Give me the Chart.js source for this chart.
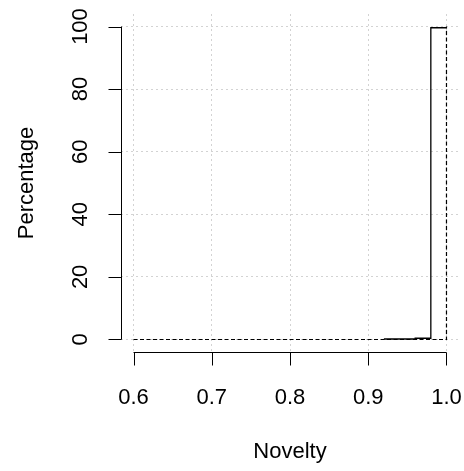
<!DOCTYPE html>
<html><head><meta charset="utf-8">
<script src="https://cdn.jsdelivr.net/npm/chart.js@4/dist/chart.umd.min.js"></script>
<style>html,body{margin:0;padding:0;background:#fff;overflow:hidden}#wrap{width:464px;height:471px}canvas{display:block}</style>
</head><body><div id="wrap"><canvas id="c" width="464" height="471" style="width:464px;height:471px"></canvas></div>
<script>
const xTicks = [0.6, 0.7, 0.8, 0.9, 1.0];
const xTickLabels = ["0.6", "0.7", "0.8", "0.9", "1.0"];
const yTicks = [0, 20, 40, 60, 80, 100];
const yTickLabels = ["0", "20", "40", "60", "80", "100"];
const solidX = [0.92, 0.96, 0.98, 1.0];
const solidY = [0.15, 0.4, 99.6, 99.6];
const dashedX = [0.6, 1.0];
const dashedY = [0, 100];
const xTitle = "Novelty";
const yTitle = "Percentage";

const FONT = '22px "Liberation Sans", Arial, sans-serif';

const axesPlugin = {
  id: 'rAxes',
  afterDraw(chart) {
    const ctx = chart.ctx, xs = chart.scales.x, ys = chart.scales.y, ca = chart.chartArea;
    ctx.save();
    ctx.strokeStyle = '#000'; ctx.lineWidth = 1; ctx.setLineDash([]);
    const tl = 13;
    const ax = Math.round(ca.left) + 0.5;
    ctx.beginPath();
    ctx.moveTo(ax, ys.getPixelForValue(yTicks[0]));
    ctx.lineTo(ax, ys.getPixelForValue(yTicks[yTicks.length - 1]));
    yTicks.forEach(v => { const p = Math.round(ys.getPixelForValue(v)) + 0.5; ctx.moveTo(ax, p); ctx.lineTo(ax - tl, p); });
    ctx.stroke();
    const ay = Math.round(ca.bottom) + 0.5;
    ctx.beginPath();
    ctx.moveTo(xs.getPixelForValue(xTicks[0]), ay);
    ctx.lineTo(xs.getPixelForValue(xTicks[xTicks.length - 1]), ay);
    xTicks.forEach(v => { const p = Math.round(xs.getPixelForValue(v)) + 0.5; ctx.moveTo(p, ay); ctx.lineTo(p, ay + tl); });
    ctx.stroke();
    ctx.fillStyle = '#000'; ctx.font = FONT;
    ctx.textAlign = 'center'; ctx.textBaseline = 'alphabetic';
    xTicks.forEach((v, i) => ctx.fillText(xTickLabels[i], xs.getPixelForValue(v), 404));
    yTicks.forEach((v, i) => {
      ctx.save(); ctx.translate(87, ys.getPixelForValue(v)); ctx.rotate(-Math.PI / 2);
      ctx.fillText(yTickLabels[i], 0, 0); ctx.restore();
    });
    ctx.fillText(xTitle, (ca.left + ca.right) / 2, 458);
    ctx.save(); ctx.translate(33, (ca.top + ca.bottom) / 2); ctx.rotate(-Math.PI / 2);
    ctx.fillText(yTitle, 0, 0); ctx.restore();
    ctx.restore();
  }
};

const gridOpts = { color: '#d3d3d3', lineWidth: 1, drawTicks: false };
new Chart(document.getElementById('c'), {
  type: 'scatter',
  data: {
    datasets: [
      { data: dashedX.map((x, i) => ({ x: x, y: dashedY[i] })), showLine: true, stepped: 'before',
        borderColor: '#000', borderWidth: 1.2, borderDash: [4, 2.5], pointRadius: 0, fill: false },
      { data: solidX.map((x, i) => ({ x: x, y: solidY[i] })), showLine: true, stepped: 'before',
        borderColor: '#000', borderWidth: 1.3, pointRadius: 0, fill: false }
    ]
  },
  options: {
    responsive: false, animation: false, devicePixelRatio: 1,
    layout: { padding: { left: 121, top: 14, right: 5, bottom: 119 } },
    plugins: { legend: { display: false }, tooltip: { enabled: false } },
    scales: {
      x: { type: 'linear', min: 0.584, max: 1.016,
        afterBuildTicks: s => { s.ticks = xTicks.map(v => ({ value: v })); },
        ticks: { display: false }, border: { display: false, dash: [2, 3] },
        grid: gridOpts },
      y: { type: 'linear', min: -4, max: 104,
        afterBuildTicks: s => { s.ticks = yTicks.map(v => ({ value: v })); },
        ticks: { display: false }, border: { display: false, dash: [2, 3] },
        grid: gridOpts }
    }
  },
  plugins: [axesPlugin]
});
</script></body></html>
